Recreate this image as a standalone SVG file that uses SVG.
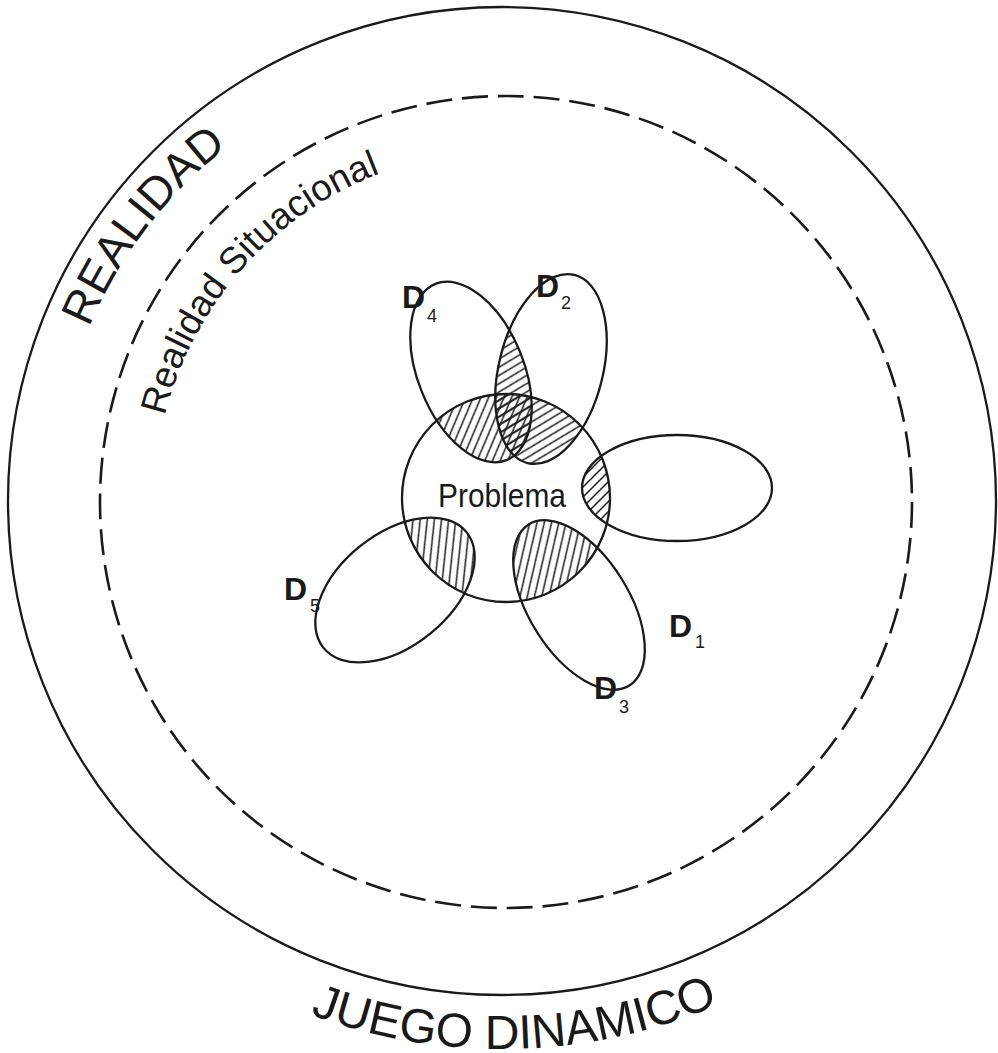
<svg xmlns="http://www.w3.org/2000/svg" width="998" height="1053" viewBox="0 0 998 1053">
<style>
.ln{fill:none;stroke:#1a1a1a;stroke-width:2.3}
.dash{fill:none;stroke:#1a1a1a;stroke-width:2.6;stroke-dasharray:26 9.93}
.t{font-family:"Liberation Sans",Arial,Helvetica,sans-serif;fill:#1a1a1a}
.d{font-weight:bold;font-size:32px}
.sub{font-size:18px}
.hatch{fill:url(#hatch);stroke:none}
</style>
<defs>
<pattern id="hatch" width="10" height="10" patternUnits="userSpaceOnUse"><path d="M-1,11 L11,-1 M-3,3 L3,-3 M7,13 L13,7" stroke="#1a1a1a" stroke-width="1.5" fill="none"/></pattern>
<clipPath id="cP"><circle cx="506" cy="498" r="104"/></clipPath>
<clipPath id="cD4"><ellipse cx="471" cy="372" rx="53" ry="95" transform="rotate(-22 471 372)"/></clipPath>
<path id="arcR" d="M54.43,520.54 A448,448 0 0 1 405.03,63.62"/>
<path id="arcS" d="M154.14,492.17 A352,352 0 0 1 454.58,153.78"/>
<path id="arcJ" d="M157.1,926.9 A548,548 0 0 0 861.5,914.6"/>
</defs>

<g id="realidad">
<circle class="ln" cx="502" cy="501" r="494"/>
<text class="t" font-size="46"><textPath href="#arcR" startOffset="50%" text-anchor="middle">REALIDAD</textPath></text>
<text class="t" font-size="48"><textPath href="#arcJ" startOffset="50.5%" text-anchor="middle">JUEGO DINAMICO</textPath></text>
</g>

<g id="realidad-situacional">
<circle class="dash" cx="506" cy="502" r="406"/>
<text class="t" font-size="37"><textPath href="#arcS" startOffset="50%" text-anchor="middle">Realidad Situacional</textPath></text>
</g>

<g id="hatching">
<g clip-path="url(#cP)">
<ellipse class="hatch" cx="471" cy="372" rx="53" ry="95" transform="rotate(-22 471 372)"/>
<ellipse class="hatch" cx="551" cy="369" rx="52" ry="97" transform="rotate(14 551 369)"/>
<ellipse class="hatch" cx="677" cy="488" rx="95" ry="53"/>
<ellipse class="hatch" cx="579" cy="605" rx="50" ry="95" transform="rotate(-32 579 605)"/>
<ellipse class="hatch" cx="395" cy="590" rx="92" ry="56" transform="rotate(-39 395 590)"/>
</g>
<g clip-path="url(#cD4)">
<ellipse class="hatch" cx="551" cy="369" rx="52" ry="97" transform="rotate(14 551 369)"/>
</g>
</g>

<g id="problema">
<circle class="ln" cx="506" cy="498" r="104"/>
<text class="t" x="502" y="507" font-size="33" text-anchor="middle" textLength="128" lengthAdjust="spacingAndGlyphs">Problema</text>
</g>

<g id="D4">
<ellipse class="ln" cx="471" cy="372" rx="53" ry="95" transform="rotate(-22 471 372)"/>
<text class="t d" x="402" y="308">D</text><text class="t sub" x="427" y="322">4</text>
</g>
<g id="D2">
<ellipse class="ln" cx="551" cy="369" rx="52" ry="97" transform="rotate(14 551 369)"/>
<text class="t d" x="536" y="297">D</text><text class="t sub" x="561" y="309">2</text>
</g>
<g id="D1">
<ellipse class="ln" cx="677" cy="488" rx="95" ry="53"/>
<text class="t d" x="669" y="637">D</text><text class="t sub" x="695" y="648">1</text>
</g>
<g id="D3">
<ellipse class="ln" cx="579" cy="605" rx="50" ry="95" transform="rotate(-32 579 605)"/>
<text class="t d" x="594" y="699">D</text><text class="t sub" x="619" y="713">3</text>
</g>
<g id="D5">
<ellipse class="ln" cx="395" cy="590" rx="92" ry="56" transform="rotate(-39 395 590)"/>
<text class="t d" x="284" y="600">D</text><text class="t sub" x="310" y="612">5</text>
</g>
</svg>
